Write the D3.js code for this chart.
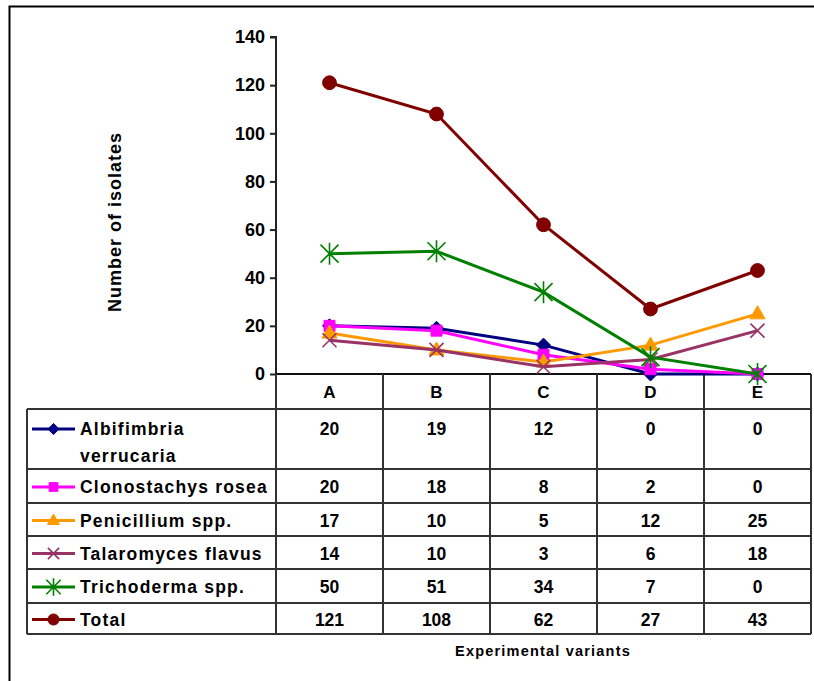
<!DOCTYPE html>
<html>
<head>
<meta charset="utf-8">
<style>
  body { margin: 0; background: #fff; }
  text { font-family: "Liberation Sans", Arial, sans-serif; font-weight: bold; fill: #000; }
</style>
</head>
<body>
<svg width="814" height="681"></svg>
<script src="https://cdn.jsdelivr.net/npm/d3@7/dist/d3.min.js"></script>
<script>
// data
var variants = ["A", "B", "C", "D", "E"];
var seriesNames = ["Albifimbria verrucaria", "Clonostachys rosea", "Penicillium spp.", "Talaromyces flavus", "Trichoderma spp.", "Total"];
var albifimbria = [20, 19, 12, 0, 0];
var clonostachys = [20, 18, 8, 2, 0];
var penicillium = [17, 10, 5, 12, 25];
var talaromyces = [14, 10, 3, 6, 18];
var trichoderma = [50, 51, 34, 7, 0];
var total = [121, 108, 62, 27, 43];
var yTicks = [0, 20, 40, 60, 80, 100, 120, 140];

var colors = ["#000080", "#ff00ff", "#ff9900", "#993366", "#008000", "#800000"];
var markers = ["diamond", "square", "triangle", "x", "star", "circle"];
var values = [albifimbria, clonostachys, penicillium, talaromyces, trichoderma, total];

var svg = d3.select("svg");

// outer frame (runs off the right and bottom of the picture)
svg.append("rect")
  .attr("x", 9.5).attr("y", 6.5)
  .attr("width", 900).attr("height", 800)
  .attr("fill", "none").attr("stroke", "#000").attr("stroke-width", 2);

var x = d3.scaleBand().domain(variants).range([276, 811]);
var y = d3.scaleLinear().domain([0, 140]).range([374, 37]);

// y axis
var yAxis = svg.append("g")
  .attr("transform", "translate(276,0)")
  .call(d3.axisLeft(y).tickValues(yTicks).tickSize(6).tickPadding(5));
yAxis.select(".domain").attr("stroke", "#222").attr("stroke-width", 2).attr("d", "M-6," + y(140) + "H0V" + y(0));
yAxis.selectAll(".tick line").attr("stroke", "#222").attr("stroke-width", 2);
yAxis.selectAll(".tick text")
  .style("font-family", "'Liberation Sans', Arial, sans-serif")
  .style("font-weight", "bold").style("font-size", "18px").attr("fill", "#000");

svg.append("text")
  .attr("transform", "translate(121,222) rotate(-90)")
  .attr("text-anchor", "middle")
  .style("font-size", "18px")
  .style("letter-spacing", "1px")
  .text("Number of isolates");

// data table rows
var headerBottom = 409;
var rowBottoms = [469, 503, 536, 569, 603, 634];
var tableLeft = 27, tableRight = 811;
var grid = svg.append("g").attr("stroke", "#333").attr("stroke-width", 2);

// x axis line (top of table header)
grid.append("line").attr("x1", 276).attr("x2", tableRight).attr("y1", 374).attr("y2", 374).attr("stroke", "#111");
grid.append("line").attr("x1", tableLeft).attr("x2", tableRight).attr("y1", headerBottom).attr("y2", headerBottom);
rowBottoms.forEach(function(b) {
  grid.append("line").attr("x1", tableLeft).attr("x2", tableRight).attr("y1", b).attr("y2", b);
});
grid.append("line").attr("x1", tableLeft).attr("x2", tableLeft).attr("y1", headerBottom).attr("y2", 634);
variants.forEach(function(v) {
  grid.append("line").attr("x1", x(v)).attr("x2", x(v)).attr("y1", 374).attr("y2", 634);
});
grid.append("line").attr("x1", tableRight).attr("x2", tableRight).attr("y1", 374).attr("y2", 634);

// header letters
svg.selectAll(".hdr").data(variants).enter().append("text")
  .attr("x", function(d) { return x(d) + x.bandwidth() / 2; })
  .attr("y", 398)
  .attr("text-anchor", "middle")
  .style("font-size", "17px")
  .text(function(d) { return d; });

function markerPath(type, k) {
  switch (type) {
    case "diamond": return "M0," + (-7 * k) + "L" + (7 * k) + ",0L0," + (7 * k) + "L" + (-7 * k) + ",0Z";
    case "square": return "M" + (-5.5 * k) + "," + (-5.5 * k) + "h" + (11 * k) + "v" + (11 * k) + "h" + (-11 * k) + "Z";
    case "triangle": return "M0," + (-8 * k) + "L" + (7.5 * k) + "," + (5 * k) + "L" + (-7.5 * k) + "," + (5 * k) + "Z";
    case "circle": return d3.symbol(d3.symbolCircle, 150 * k * k)();
    case "x": return "M" + (-7 * k) + "," + (-7 * k) + "L" + (7 * k) + "," + (7 * k) + "M" + (-7 * k) + "," + (7 * k) + "L" + (7 * k) + "," + (-7 * k);
    case "star": return "M" + (-9 * k) + "," + (-9 * k) + "L" + (9 * k) + "," + (9 * k) + "M" + (-9 * k) + "," + (9 * k) + "L" + (9 * k) + "," + (-9 * k) + "M0," + (-11 * k) + "L0," + (11 * k);
  }
}

function drawMarker(g, type, color, cx, cy, k) {
  var p = g.append("path")
    .attr("transform", "translate(" + cx + "," + cy + ")")
    .attr("d", markerPath(type, k));
  if (type === "x" || type === "star") {
    p.attr("fill", "none").attr("stroke", color).attr("stroke-width", 1.6);
  } else {
    p.attr("fill", color).attr("stroke", color).attr("stroke-width", 1);
  }
}

var line = d3.line()
  .x(function(d, i) { return x(variants[i]) + x.bandwidth() / 2; })
  .y(function(d) { return y(d); });

// rows: legend key, name, numbers
var rowTops = [headerBottom].concat(rowBottoms.slice(0, -1));
seriesNames.forEach(function(name, s) {
  var top = rowTops[s];
  var ky = s === 0 ? top + 20 : (top + rowBottoms[s]) / 2 + 1;
  var key = svg.append("g");
  key.append("line").attr("x1", 32).attr("x2", 75).attr("y1", ky).attr("y2", ky)
    .attr("stroke", colors[s]).attr("stroke-width", 3);
  drawMarker(key, markers[s], colors[s], 53.5, ky, 0.8);

  var labelStyle = function(t) { return t.style("font-size", "17.5px").style("letter-spacing", "1.2px"); };
  if (s === 0) {
    labelStyle(svg.append("text").attr("x", 80).attr("y", ky + 6)).text("Albifimbria");
    labelStyle(svg.append("text").attr("x", 80).attr("y", ky + 33)).text("verrucaria");
  } else {
    labelStyle(svg.append("text").attr("x", 80).attr("y", ky + 6)).text(name);
  }

  svg.selectAll(".num" + s).data(values[s]).enter().append("text")
    .attr("x", function(d, i) { return x(variants[i]) + x.bandwidth() / 2; })
    .attr("y", ky + 6)
    .attr("text-anchor", "middle")
    .style("font-size", "17.5px")
    .text(function(d) { return d; });
});

// series lines, drawn in order so Total ends up on top
seriesNames.forEach(function(name, s) {
  var g = svg.append("g");
  g.append("path").datum(values[s])
    .attr("d", line)
    .attr("fill", "none")
    .attr("stroke", colors[s])
    .attr("stroke-width", 3);
  values[s].forEach(function(v, i) {
    drawMarker(g, markers[s], colors[s], x(variants[i]) + x.bandwidth() / 2, y(v), 1);
  });
});

svg.append("text")
  .attr("x", 543).attr("y", 656)
  .attr("text-anchor", "middle")
  .style("font-size", "14.5px")
  .style("letter-spacing", "1.2px")
  .text("Experimental variants");
</script>
</body>
</html>
